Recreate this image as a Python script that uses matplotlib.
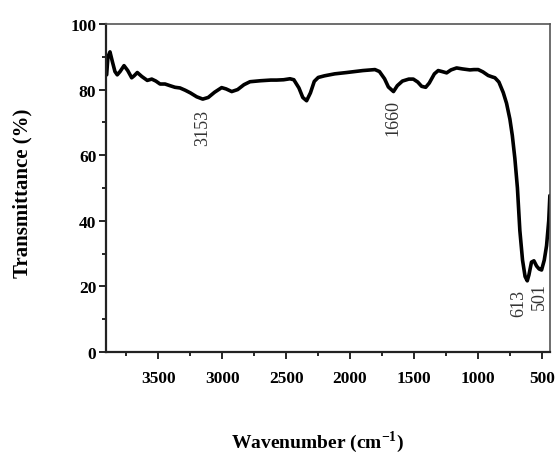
import matplotlib.pyplot as plt
from matplotlib.ticker import MultipleLocator

plt.rcParams['font.family'] = ['Liberation Serif', 'DejaVu Serif']
plt.rcParams['mathtext.fontset'] = 'custom'
plt.rcParams['mathtext.rm'] = 'Liberation Serif'
plt.rcParams['mathtext.bf'] = 'Liberation Serif:bold'

# FTIR spectrum, wavenumber (cm-1) vs transmittance (%)
wavenumber = [3905, 3895, 3879, 3860, 3840, 3822, 3800, 3769, 3740, 3709,
              3690, 3665, 3630, 3587, 3552, 3520, 3487, 3448, 3410, 3370,
              3331, 3290, 3250, 3200, 3153, 3110, 3060, 3005, 2970, 2926,
              2880, 2830, 2783, 2700, 2620, 2574, 2520, 2470, 2440, 2400,
              2370, 2340, 2310, 2280, 2249, 2200, 2120, 2027, 1900, 1805,
              1770, 1730, 1700, 1660, 1630, 1590, 1540, 1505, 1470, 1440,
              1408, 1380, 1340, 1310, 1280, 1244, 1210, 1166, 1120, 1062,
              1030, 997, 960, 919, 890, 866, 835, 801, 775, 749,
              730, 710, 690, 671, 650, 630, 613, 600, 580, 561,
              540, 520, 501, 480, 462, 445, 436]
transmittance = [84.5, 90.0, 91.5, 88.5, 85.5, 84.5, 85.5, 87.3, 85.8, 83.6,
                 84.2, 85.2, 84.0, 82.8, 83.2, 82.6, 81.7, 81.7, 81.2, 80.7,
                 80.5, 79.8, 79.0, 77.8, 77.1, 77.6, 79.2, 80.6, 80.2, 79.4,
                 80.0, 81.5, 82.4, 82.7, 82.9, 82.9, 83.0, 83.3, 83.0, 80.5,
                 77.6, 76.6, 79.0, 82.5, 83.7, 84.2, 84.8, 85.2, 85.8, 86.1,
                 85.5, 83.3, 80.8, 79.4, 81.2, 82.6, 83.2, 83.2, 82.3, 81.0,
                 80.7, 82.0, 84.8, 85.8, 85.5, 85.1, 86.0, 86.6, 86.3, 86.0,
                 86.1, 86.1, 85.4, 84.3, 83.9, 83.6, 82.3, 79.1, 75.8, 71.0,
                 66.0, 59.0, 50.0, 37.0, 28.0, 23.0, 21.7, 23.5, 27.4, 27.8,
                 26.2, 25.3, 25.0, 28.0, 32.4, 40.0, 47.7]

peaks = [3153, 1660, 613, 501]
peak_text_x = [3153, 1665, 678, 522]
peak_text_y = [74, 77, 19.2, 21.2]

fig = plt.figure(figsize=(5.55, 4.56), dpi=100)
ax = fig.add_axes([0.191, 0.2259, 0.8, 0.7193])

ax.plot(wavenumber, transmittance, color='black', lw=2.6,
        solid_joinstyle='round', solid_capstyle='round')

for p, tx, ty in zip(peaks, peak_text_x, peak_text_y):
    ax.text(tx, ty, str(p), rotation=90, ha='center', va='top',
            fontsize=13, color='#333333')

ax.set_xlim(3910, 435)
ax.set_ylim(0, 100)
ax.xaxis.set_major_locator(MultipleLocator(500))
ax.xaxis.set_minor_locator(MultipleLocator(250))
ax.yaxis.set_major_locator(MultipleLocator(20))
ax.yaxis.set_minor_locator(MultipleLocator(10))

ax.tick_params(which='both', direction='out', top=False, right=False,
               labelsize=12.5, width=1.2)
ax.tick_params(which='major', length=5, pad=2)
ax.tick_params(which='minor', length=3)
for lab in ax.get_xticklabels() + ax.get_yticklabels():
    lab.set_fontweight('bold')
ax.tick_params(axis='x', pad=8)

for side in ['left', 'bottom']:
    ax.spines[side].set_linewidth(1.6)
    ax.spines[side].set_color('#222222')
for side in ['top', 'right']:
    ax.spines[side].set_linewidth(1.2)
    ax.spines[side].set_color('#555555')

fig.text(0.04, 0.576, 'Transmittance (%)', rotation=90, ha='center',
         va='center', fontsize=15, fontweight='bold')
fig.text(0.573, 0.03, r'Wavenumber (cm$^{\mathbf{-1}}$)', ha='center',
         va='center', fontsize=14, fontweight='bold')

fig.savefig('out.png', dpi=100)
